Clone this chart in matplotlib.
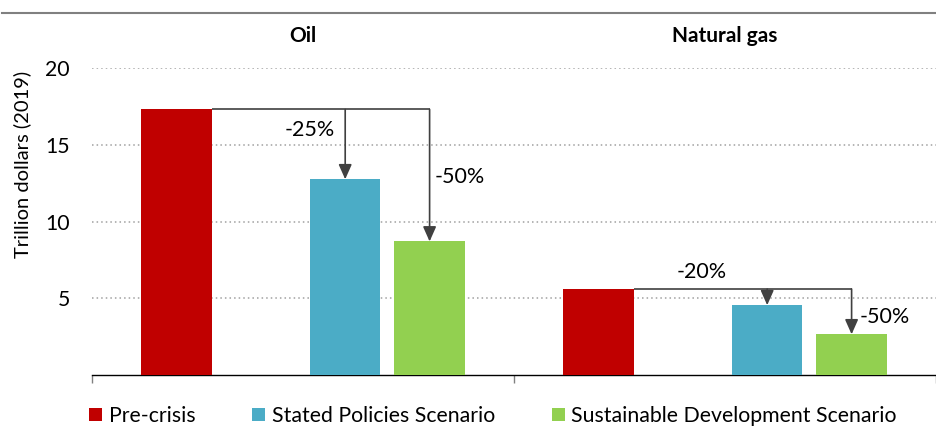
import matplotlib
matplotlib.use('Agg')
import matplotlib.pyplot as plt
import matplotlib.transforms as mtransforms
from matplotlib.patches import Patch
from matplotlib.lines import Line2D
import numpy as np

### Data ###

categories = ['Oil', 'Natural gas']
scenarios = ['Pre-crisis', 'Stated Policies Scenario', 'Sustainable Development Scenario']
pre_crisis = [17.3, 5.6]
stated_policies = [12.75, 4.55]
sustainable_dev = [8.7, 2.65]
stated_change = ['-25%', '-20%']
sds_change = ['-50%', '-50%']
y_ticks = [5, 10, 15, 20]

### Style ###

colors = ['#C00000', '#4BACC6', '#92D050']
arrow_color = '#404040'
plt.rcParams['font.family'] = ['Lato', 'DejaVu Sans']
fs = 15.3

W, H = 936, 429
fig = plt.figure(figsize=(W / 100, H / 100), dpi=100)

# axes placed in pixel terms of the reference
left, right, bottom, top = 92, 936, 375, 68
ax = fig.add_axes([left / W, 1 - bottom / H, (right - left) / W, (bottom - top) / H])

x = np.arange(len(categories))
offsets = [-0.3, 0.1, 0.3]  # empty slot at -0.1
width = 0.167
series = [pre_crisis, stated_policies, sustainable_dev]

for vals, off, col in zip(series, offsets, colors):
    ax.bar(x + off, vals, width, color=col, zorder=3)

ax.set_xlim(-0.5, -0.5 + (right - left) / 424)
ax.set_ylim(0, 20)
ax.set_yticks(y_ticks)
ax.set_yticklabels([str(t) for t in y_ticks], fontsize=fs)
ax.tick_params(axis='y', length=0, pad=16)
ax.set_xticks([-0.5, 0.5, 1.5])
ax.set_xticklabels([])
ax.tick_params(axis='x', length=5.5, width=1, color='#808080', direction='out')
ax.grid(axis='y', color='#A0A0A0', linestyle=(0, (1, 2)), linewidth=1.1, zorder=0)

for s in ['top', 'right', 'left']:
    ax.spines[s].set_visible(False)
ax.spines['bottom'].set_color('black')
ax.spines['bottom'].set_linewidth(1)

# category titles
title_tf = mtransforms.blended_transform_factory(ax.transData, fig.transFigure)
for xi, cat in zip(x, categories):
    ax.text(xi, 1 - 36 / H, cat, transform=title_tf,
            ha='center', va='center', fontsize=15, fontweight='bold')

# connector lines and arrows
label_offsets = {
    'stated': [(-10, -21, 'right'), (-66, 17, 'center')],
    'sds': [(5, -68, 'left'), (8, -28, 'left')],
}
for i in range(len(categories)):
    base = pre_crisis[i]
    x0 = x[i] + offsets[0] + width / 2
    xs = x[i] + offsets[1]
    xd = x[i] + offsets[2]
    ax.plot([x0, xd], [base, base], color=arrow_color, lw=1.2, zorder=4,
            solid_capstyle='butt')
    for xa, val, txt, key in [(xs, stated_policies[i], stated_change[i], 'stated'),
                              (xd, sustainable_dev[i], sds_change[i], 'sds')]:
        ax.annotate('', xy=(xa, val), xytext=(xa, base),
                    arrowprops=dict(arrowstyle='-|>,head_length=0.9,head_width=0.4',
                                    color=arrow_color, lw=1.2, shrinkA=0, shrinkB=0,
                                    mutation_scale=10), zorder=5)
        dx, dy, ha = label_offsets[key][i]
        ax.annotate(txt, xy=(xa, base), xytext=(dx, dy), textcoords='offset pixels',
                    ha=ha, va='center', fontsize=15.5, color='black', zorder=6)

# y label
fig.text(22 / W, 1 - 164 / H, 'Trillion dollars (2019)', rotation=90,
         ha='center', va='center', fontsize=14.5)

# top rule
fig.add_artist(Line2D([2 / W, 1], [1 - 12.5 / H, 1 - 12.5 / H], color='#808080', lw=1.5))

# legend
handles = [Patch(facecolor=c, edgecolor='none') for c in colors]
fig.legend(handles, scenarios, loc='center left', bbox_to_anchor=(89 / W, 1 - 416 / H),
           ncol=3, frameon=False, fontsize=fs, handlelength=0.62, handleheight=0.62,
           handletextpad=0.3, columnspacing=2.68, borderpad=0, borderaxespad=0)

fig.savefig('out.png', dpi=100)
